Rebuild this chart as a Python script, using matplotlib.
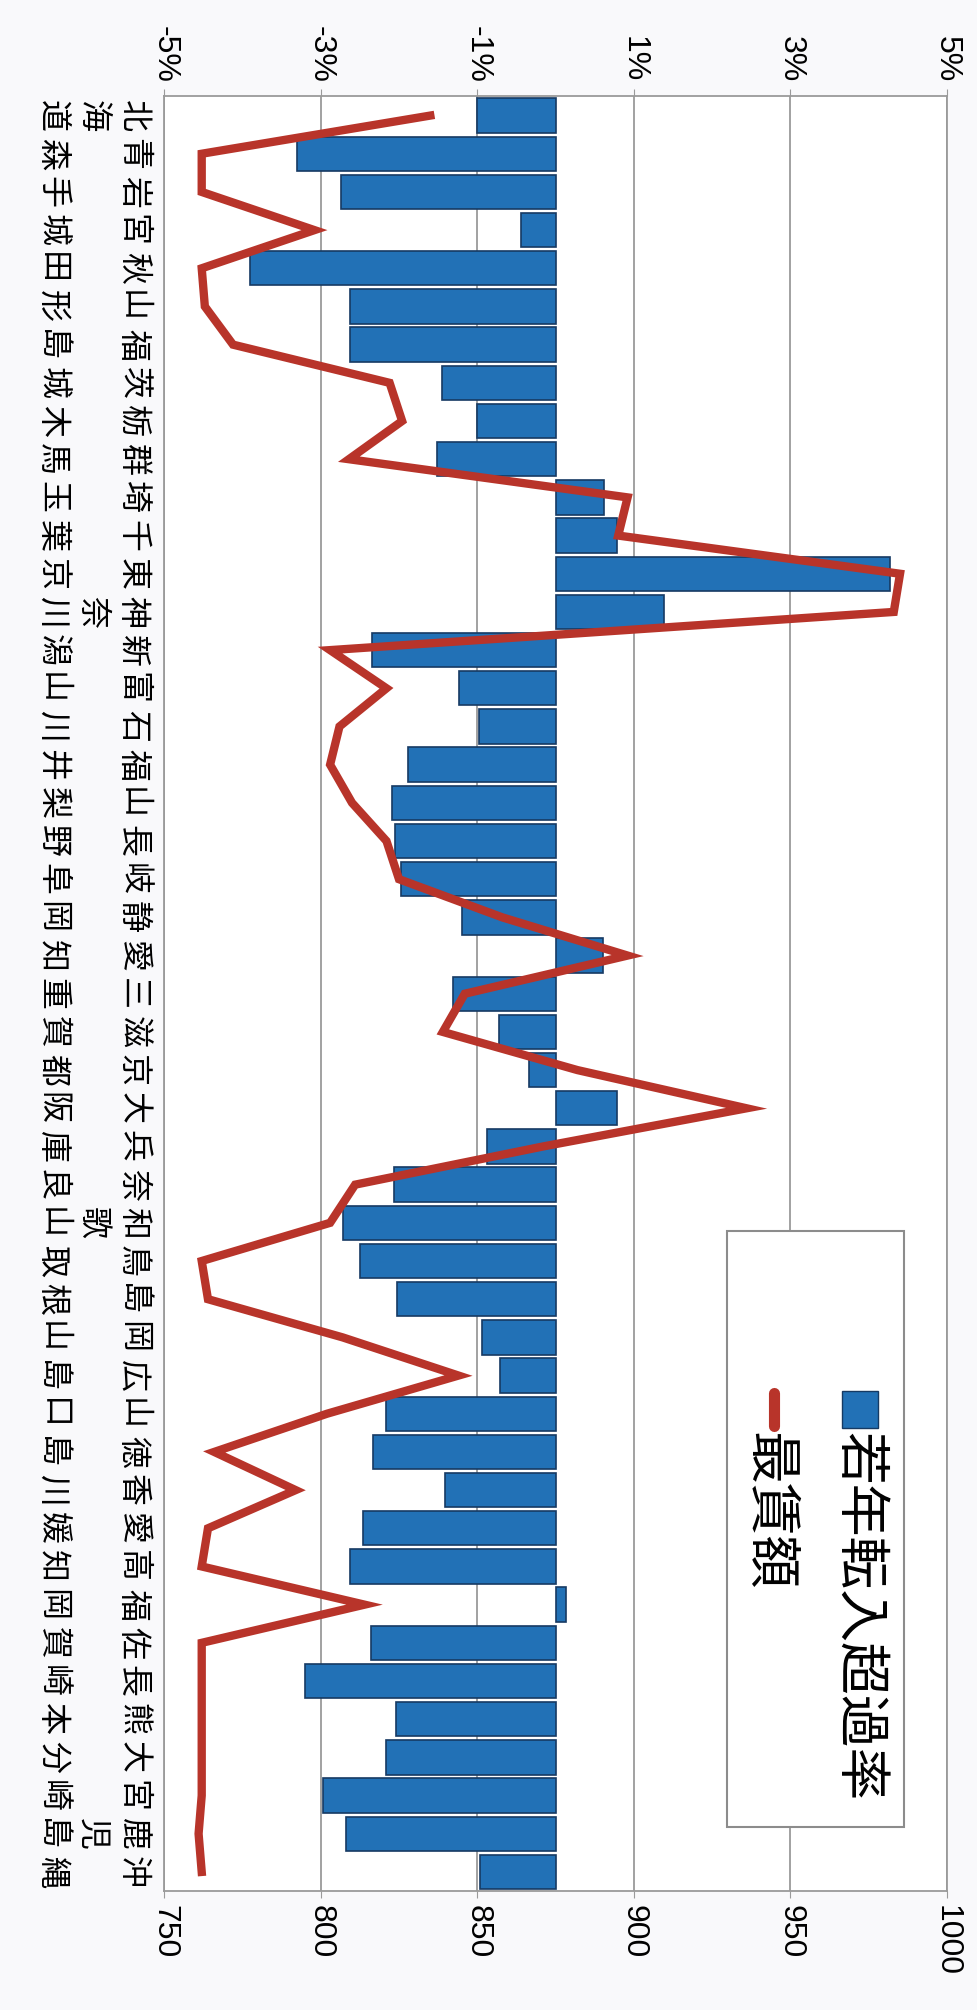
import matplotlib.pyplot as plt
from matplotlib.lines import Line2D
from matplotlib.patches import Rectangle

prefectures = ["北海道", "青森", "岩手", "宮城", "秋田", "山形", "福島", "茨城",
               "栃木", "群馬", "埼玉", "千葉", "東京", "神奈川", "新潟", "富山",
               "石川", "福井", "山梨", "長野", "岐阜", "静岡", "愛知", "三重",
               "滋賀", "京都", "大阪", "兵庫", "奈良", "和歌山", "鳥取", "島根",
               "岡山", "広島", "山口", "徳島", "香川", "愛媛", "高知", "福岡",
               "佐賀", "長崎", "熊本", "大分", "宮崎", "鹿児島", "沖縄"]

# 若年転入超過率 (%)
inflow_rate = [-1.00, -3.30, -2.74, -0.44, -3.90, -2.62, -2.62, -1.45,
               -1.00, -1.52, 0.62, 0.78, 4.27, 1.39, -2.35, -1.23,
               -0.98, -1.88, -2.09, -2.05, -1.97, -1.20, 0.61, -1.31,
               -0.72, -0.34, 0.79, -0.88, -2.07, -2.71, -2.50, -2.02,
               -0.94, -0.71, -2.16, -2.33, -1.41, -2.46, -2.62, 0.13,
               -2.36, -3.20, -2.04, -2.16, -2.97, -2.68, -0.96]

# 最賃額 (yen)
min_wage = [835, 762, 762, 798, 762, 763, 772, 822, 826, 809, 898, 895,
            985, 983, 803, 821, 806, 803, 810, 821, 825, 858, 898, 846,
            839, 882, 936, 871, 811, 803, 762, 764, 807, 844, 802, 766,
            792, 764, 762, 814, 762, 762, 762, 762, 762, 761, 762]

rate_ticks = [-5, -3, -1, 1, 3, 5]
wage_ticks = [750, 800, 850, 900, 950, 1000]

BAR_BLUE = "#2271b6"
BAR_EDGE = "#163a63"
LINE_RED = "#b8342a"
GRID = "#9a9a9a"


def stack(name):
    # one character per line; two-character names get a blank middle line
    if len(name) == 2:
        name = name[0] + "\u3000" + name[1]
    return "\n".join(name)


plt.rcParams['font.family'] = ['Noto Sans CJK JP', 'DejaVu Sans']

fig = plt.figure(figsize=(9.77, 20.10), dpi=100, facecolor="#f9f9fb")
ax = fig.add_axes([0.168, 0.0592, 0.8013, 0.8928])
ax.set_facecolor("white")

pos = list(range(len(prefectures)))
ax.barh(pos, inflow_rate, height=0.9, color=BAR_BLUE, edgecolor=BAR_EDGE,
        linewidth=1.2, zorder=2)
ax.set_xlim(-5, 5)
ax.set_ylim(len(prefectures) - 0.5, -0.5)

ax.set_yticks(pos)
ax.set_yticklabels([stack(p) for p in prefectures], rotation=-90,
                   va="center", ha="right", fontsize=23, linespacing=1.33)
ax.tick_params(axis="y", length=0, pad=11)
for s in ax.spines.values():
    s.set_color(GRID)
    s.set_linewidth(1.3)

ax2 = ax.twiny()
ax2.plot(min_wage, pos, color=LINE_RED, linewidth=6, solid_joinstyle="miter",
         zorder=3)
ax2.set_xlim(750, 1000)
ax2.set_xticks(wage_ticks)
ax2.xaxis.tick_bottom()
ax2.tick_params(axis="x", labelrotation=-90, labelsize=23, length=5,
                color=GRID, pad=5, labelfontfamily="Liberation Sans")
for s in ax2.spines.values():
    s.set_visible(False)

# twiny moves the first axis to the bottom, so put the % scale back on top
ax.xaxis.tick_top()
ax.set_xticks(rate_ticks)
ax.set_xticklabels([f"{t}%" for t in rate_ticks])
ax.tick_params(axis="x", labelrotation=-90, labelsize=23, length=5,
               color=GRID, pad=5, labelfontfamily="Liberation Sans")
ax.grid(axis="x", color=GRID, linewidth=1.3)
ax.set_axisbelow(True)

# legend drawn by hand so it can be turned like the rest of the chart
fig.add_artist(Rectangle((0.744, 0.091), 0.181, 0.2966,
                         transform=fig.transFigure, facecolor="white",
                         edgecolor="#8c8c8c", linewidth=1.5))
fig.add_artist(Rectangle((0.862, 0.2896), 0.037, 0.0184,
                         transform=fig.transFigure, facecolor=BAR_BLUE,
                         edgecolor=BAR_EDGE, linewidth=1))
fig.text(0.879, 0.2878, "若年転入超過率", rotation=-90, ha="center", va="top",
         fontsize=38)
fig.add_artist(Line2D([0.792, 0.792], [0.2905, 0.307],
                      transform=fig.transFigure, color=LINE_RED,
                      linewidth=8, solid_capstyle="round"))
fig.text(0.787, 0.2878, "最賃額", rotation=-90, ha="center", va="top",
         fontsize=38)

fig.savefig("out.png", dpi=100, facecolor=fig.get_facecolor())
